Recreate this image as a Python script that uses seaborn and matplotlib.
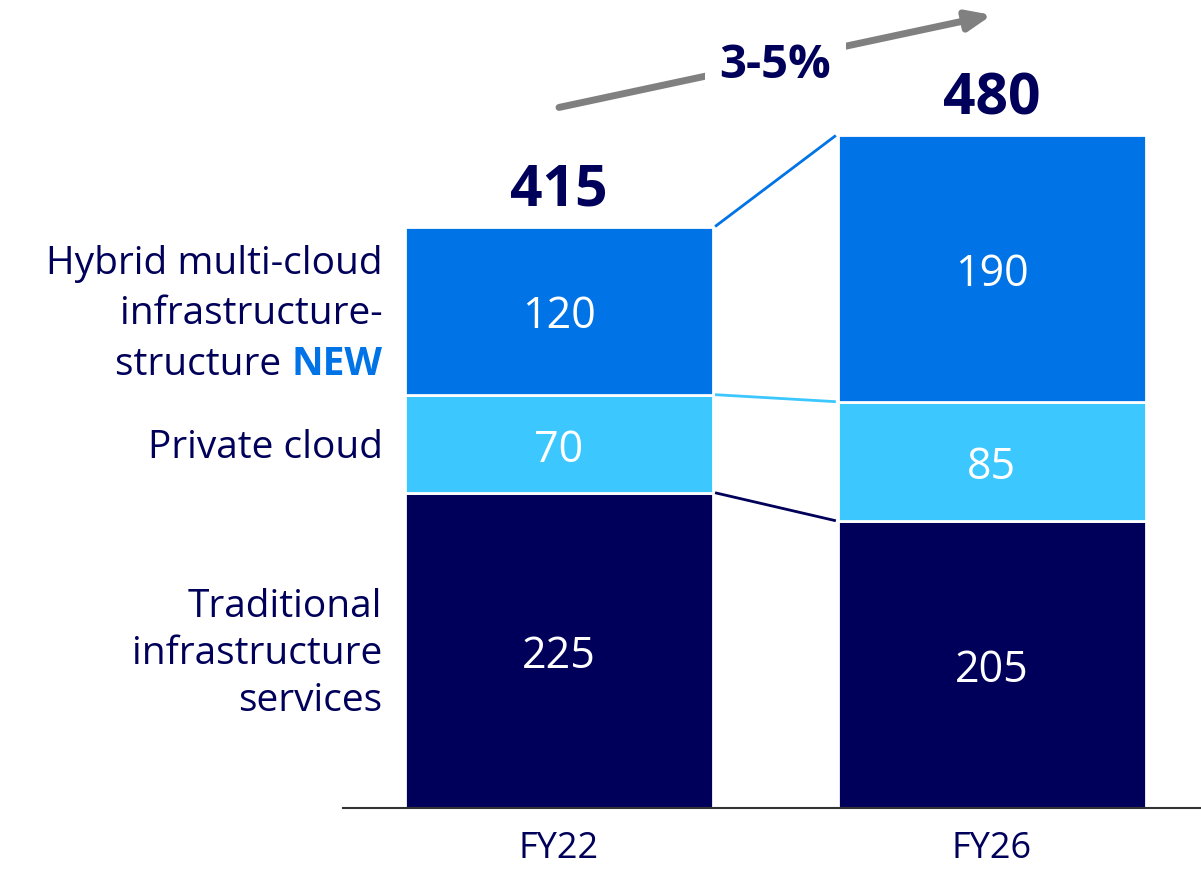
import matplotlib
matplotlib.use('Agg')
import matplotlib.pyplot as plt
import seaborn as sns
import pandas as pd

years = ['FY22', 'FY26']
traditional = [225, 205]
private_cloud = [70, 85]
hybrid = [120, 190]
totals = [415, 480]
growth_label = '3-5%'

NAVY = '#00005a'
LIGHT = '#3cc8ff'
BLUE = '#0073e6'
GREY = '#808080'

sns.set_theme(style='white')
plt.rcParams['font.family'] = ['Open Sans', 'Lato', 'DejaVu Sans']

fig = plt.figure(figsize=(12.01, 8.70), dpi=100)
ax = fig.add_axes([343 / 1201, 61 / 870, 858 / 1201, 809 / 870])

bar_w = 0.711
df = pd.DataFrame({'year': years, 'trad': traditional,
                   'priv': private_cloud, 'hyb': hybrid})
bottoms = [0, 0]
segments = [('trad', NAVY), ('priv', LIGHT), ('hyb', BLUE)]
tops = {}
for col, colour in segments:
    sns.barplot(data=df, x='year', y=col, bottom=bottoms, color=colour,
                width=bar_w, saturation=1, edgecolor='white', linewidth=2, ax=ax)
    for i, v in enumerate(df[col]):
        ax.text(i, bottoms[i] + v / 2 - 4, str(v), ha='center', va='center',
                color='white', fontsize=31)
    bottoms = [b + v for b, v in zip(bottoms, df[col])]
    tops[col] = (list(bottoms), colour)

# connector lines between the bars
for col, (top, colour) in tops.items():
    ax.plot([bar_w / 2 + 0.005, 1 - bar_w / 2 - 0.005], [top[0], top[1]],
            color=colour, lw=2, solid_capstyle='butt')

# totals above the bars
for i, t in enumerate(totals):
    ax.text(i, t + 6, str(t), ha='center', va='bottom', color=NAVY,
            fontsize=41, fontweight='bold')

# growth arrow
ax.annotate('', xy=(1.0, 566), xytext=(0.0, 500),
            arrowprops=dict(arrowstyle='-|>,head_length=1.2,head_width=0.5',
                            color=GREY, lw=5, shrinkA=0, shrinkB=0))
ax.text(0.5, 531, growth_label, ha='center', va='center', color=NAVY,
        fontsize=34, fontweight='bold',
        bbox=dict(boxstyle='square,pad=0.3', fc='white', ec='none'))

# category labels on the left
lx = -bar_w / 2 - 0.052
lab_fs = 28
ax.text(lx, traditional[0] / 2 - 2, 'Traditional\ninfrastructure\nservices',
        ha='right', va='center', color=NAVY, fontsize=lab_fs, linespacing=1.3)
ax.text(lx, traditional[0] + private_cloud[0] / 2 - 2, 'Private cloud',
        ha='right', va='center', color=NAVY, fontsize=lab_fs)
hy = traditional[0] + private_cloud[0] + hybrid[0] / 2 - 2
ax.text(lx, hy + 36, 'Hybrid multi-cloud', ha='right', va='center',
        color=NAVY, fontsize=lab_fs)
ax.text(lx, hy, 'infrastructure-', ha='right', va='center',
        color=NAVY, fontsize=lab_fs)
new_t = ax.text(lx, hy - 36, 'NEW', ha='right', va='center',
                color=BLUE, fontsize=lab_fs, fontweight='bold')
ax.annotate('structure ', xy=(0, 0.5), xycoords=new_t, ha='right', va='center',
            color=NAVY, fontsize=lab_fs)

ax.set_xlim(-0.499, 1.483)
ax.set_ylim(0, 577.4)
ax.set_xlabel('')
ax.set_ylabel('')
ax.set_yticks([])
ax.tick_params(axis='x', length=0, pad=16, labelsize=26, labelcolor=NAVY)
for s in ['top', 'right', 'left']:
    ax.spines[s].set_visible(False)
ax.spines['bottom'].set_color('#333333')
ax.spines['bottom'].set_linewidth(1.5)
ax.patch.set_alpha(0)

fig.savefig('out.png', dpi=100)
